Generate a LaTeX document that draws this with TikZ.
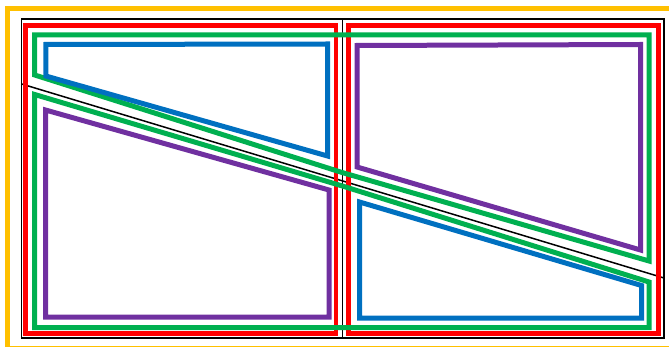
\documentclass[tikz,border=0pt]{standalone}
\usepackage{amsmath}
\usepackage{amssymb}

\definecolor{frameorange}{HTML}{FFC000}
\definecolor{panered}{HTML}{FF0000}
\definecolor{zonegreen}{HTML}{00B050}
\definecolor{partblue}{HTML}{0070C0}
\definecolor{partpurple}{HTML}{7030A0}

\begin{document}
\begin{tikzpicture}[
    x=1pt, y=-1pt,
    outer/.style={draw=frameorange, line width=5pt},
    edge/.style={draw=black, line width=1.5pt},
    pane/.style={draw=panered, line width=4.5pt},
    zone/.style={draw=zonegreen, line width=5pt},
    partA/.style={draw=partblue, line width=5pt},
    partB/.style={draw=partpurple, line width=5pt}
]

% Cadre
\useasboundingbox (0,0) rectangle (669,347);
\clip (0,0) rectangle (669,347);
\draw[outer] (7.5,8.5) rectangle (690,348.5);

% Contour noir et diagonale
\draw[edge] (21.7,19) rectangle (664,338);
\draw[edge] (342.7,19) -- (342.7,338);
\draw[edge] (21.7,84) -- (664,278);

% Vitres
\draw[pane] (25.5,25.5) rectangle (336,333.5);
\draw[pane] (348.5,25.5) rectangle (658.5,333.5);

% Zones
\draw[zone] (34.7,75) -- (34.7,35) -- (649,35) -- (649,261) -- (342.7,172.7) -- cycle;
\draw[zone] (34.7,94.5) -- (342.7,186.1) -- (649,282) -- (649,327.5) -- (34.7,327.5) -- cycle;

% Parties
\draw[partA] (45.8,44.5) -- (327.5,44) -- (327.5,156) -- (45.8,76) -- cycle;
\draw[partA] (359.5,202) -- (641.5,285.5) -- (641.5,318) -- (359.5,318) -- cycle;
\draw[partB] (45.5,110) -- (329,190) -- (329,317) -- (45.5,317) -- cycle;
\draw[partB] (357,45.5) -- (640.5,44.5) -- (640.5,250) -- (357,167) -- cycle;

\end{tikzpicture}
\end{document}
